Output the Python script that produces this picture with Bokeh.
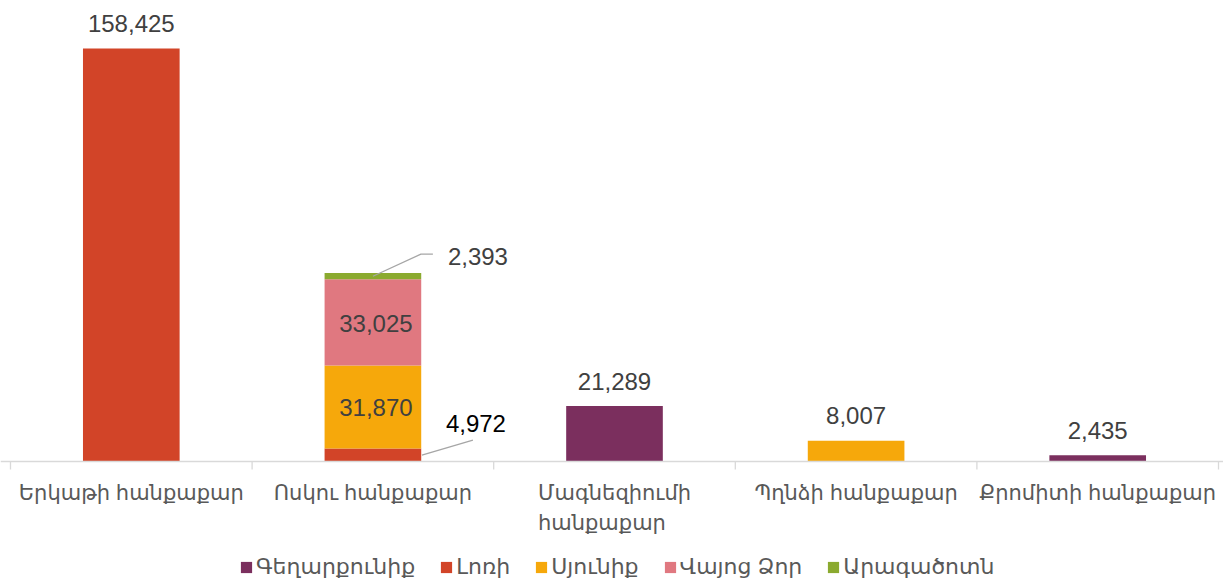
from bokeh.plotting import figure
from bokeh.models import (Range1d, Span, ColumnDataSource, Legend,
                          LegendItem, LabelSet)
from bokeh.embed import file_html
from bokeh.resources import INLINE
from bokeh.core.properties import value

# ---------------- data ----------------
categories = ["Երկաթի հանքաքար", "Ոսկու հանքաքար", "Մագնեզիումի\nհանքաքար",
              "Պղնձի հանքաքար", "Քրոմիտի հանքաքար"]
regions = ["Գեղարքունիք", "Լոռի", "Սյունիք", "Վայոց Ձոր", "Արագածոտն"]
colors = ["#7B2F5E", "#D24428", "#F6A80B", "#E07880", "#8BAA2F"]
gegharkunik = [0, 0, 21289, 0, 2435]
lori = [158425, 4972, 0, 0, 0]
syunik = [0, 31870, 0, 8007, 0]
vayots_dzor = [0, 33025, 0, 0, 0]
aragatsotn = [0, 2393, 0, 0, 0]

FONT = "Liberation Sans, DejaVu Sans"

# ---------------- geometry (frame fills the canvas) ----------------
W, H = 1223, 583
AX_LEFT, AX_RIGHT = 10, 1218      # px where the category axis starts / ends
BASELINE = 461                    # px from top where value 0 sits
BAR_PX = 413                      # px height of the tallest bar
series = [gegharkunik, lori, syunik, vayots_dzor, aragatsotn]
totals = [sum(v) for v in zip(*series)]
n = len(categories)
cat_per_px = n / (AX_RIGHT - AX_LEFT)
units_per_px = max(totals) / BAR_PX
x0 = -AX_LEFT * cat_per_px
x1 = n + (W - AX_RIGHT) * cat_per_px
y0 = -(H - BASELINE) * units_per_px
y1 = BASELINE * units_per_px

xs = [i + 0.5 for i in range(n)]
data = {"x": xs}
for name, vals in zip(regions, series):
    data[name] = vals
source = ColumnDataSource(data)

p = figure(width=W, height=H,
           x_range=Range1d(x0, x1), y_range=Range1d(y0, y1),
           output_backend="svg", toolbar_location=None,
           x_axis_location=None, y_axis_location=None,
           min_border=0)
p.outline_line_color = None
p.xgrid.visible = False
p.ygrid.visible = False
p.background_fill_color = "white"
p.border_fill_color = "white"

renderers = p.vbar_stack(regions, x="x", width=0.4, color=colors,
                         line_color=None, source=source)

# category axis: baseline and boundary ticks
p.add_layout(Span(location=0, dimension="width", line_color="#D9D9D9",
                  line_width=1.3))
bounds = list(range(n + 1))
p.segment(x0=bounds, y0=[0] * len(bounds), x1=bounds,
          y1=[-8 * units_per_px] * len(bounds),
          line_color="#D9D9D9", line_width=1.3)

# category labels
cat_src = ColumnDataSource(dict(x=xs, y=[0] * n, t=categories))
p.add_layout(LabelSet(x="x", y="y", text="t", source=cat_src, y_offset=-19,
                      text_align="center", text_baseline="top",
                      text_line_height=1.33,
                      text_font=value(FONT), text_font_size="21px",
                      text_color="#595959"))

# ---------------- value labels ----------------
single_idx = [0, 2, 3, 4]
top_src = ColumnDataSource(dict(
    x=[xs[i] for i in single_idx],
    y=[totals[i] for i in single_idx],
    t=[f"{totals[i]:,}" for i in single_idx]))
p.add_layout(LabelSet(x="x", y="y", text="t", source=top_src, y_offset=25,
                      text_align="center", text_baseline="middle",
                      text_font=value(FONT), text_font_size="24px",
                      text_color="#404040"))

g = 1
lo = lori[g]
sy = syunik[g]
vd = vayots_dzor[g]
ar = aragatsotn[g]
inside_src = ColumnDataSource(dict(
    x=[xs[g], xs[g]],
    y=[lo + sy / 2, lo + sy + vd / 2],
    t=[f"{sy:,}", f"{vd:,}"]))
p.add_layout(LabelSet(x="x", y="y", text="t", source=inside_src,
                      x_offset=3, y_offset=-1,
                      text_align="center", text_baseline="middle",
                      text_font=value(FONT), text_font_size="24px",
                      text_color="#404040"))

stack_top = lo + sy + vd + ar
out_src = ColumnDataSource(dict(
    x=[xs[g] + 75 * cat_per_px],
    y=[stack_top + 17 * units_per_px],
    t=[f"{ar:,}"]))
p.add_layout(LabelSet(x="x", y="y", text="t", source=out_src,
                      text_align="left", text_baseline="middle",
                      text_font=value(FONT), text_font_size="24px",
                      text_color="#404040"))
out_src2 = ColumnDataSource(dict(
    x=[xs[g] + 73 * cat_per_px],
    y=[lo + 25 * units_per_px],
    t=[f"{lo:,}"]))
p.add_layout(LabelSet(x="x", y="y", text="t", source=out_src2,
                      text_align="left", text_baseline="middle",
                      text_font=value(FONT), text_font_size="24px",
                      text_color="#000000"))

# leader lines
p.line(x=[xs[g], xs[g] + 48 * cat_per_px, xs[g] + 60 * cat_per_px],
       y=[stack_top - ar / 2, stack_top + 19 * units_per_px,
          stack_top + 19 * units_per_px],
       line_color="#A6A6A6", line_width=1.3)
p.line(x=[xs[g] + 49 * cat_per_px, xs[g] + 100 * cat_per_px],
       y=[lo / 2, lo / 2 + 15 * units_per_px],
       line_color="#A6A6A6", line_width=1.3)

# ---------------- legend ----------------
legend = Legend(items=[LegendItem(label=r_name, renderers=[r])
                       for r_name, r in zip(regions, renderers)],
                orientation="horizontal", location=(239, 3),
                glyph_width=14, glyph_height=14, label_standoff=3,
                spacing=24, padding=0, margin=0,
                label_text_font=FONT, label_text_font_size="22px",
                label_text_color="#595959", border_line_color=None,
                background_fill_alpha=0)
p.add_layout(legend, "center")

open("out.html", "w").write(file_html(p, INLINE))
